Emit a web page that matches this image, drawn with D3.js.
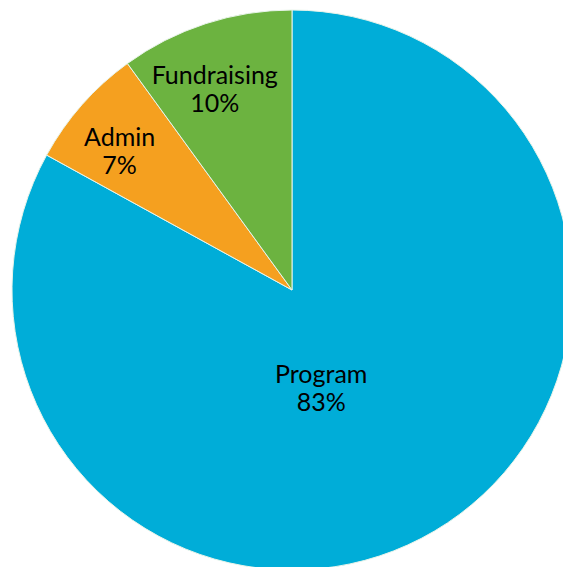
<!DOCTYPE html>
<html><head><meta charset="utf-8">
<script src="https://cdn.jsdelivr.net/npm/d3@7"></script>
<style>html,body{margin:0;padding:0;background:#fff;overflow:hidden}</style>
</head><body>
<svg id="chart" width="563" height="567"></svg>
<script>
const categories = ["Program", "Admin", "Fundraising"];
const values = [83, 7, 10];
const colors = ["#00ADD8", "#F5A01F", "#6CB340"];
// label placement: [angle offset in degrees from slice middle, radius fraction]
const labelAdjust = [[14, 0.365], [-2.6, 0.79], [-3, 0.77]];

const svg = d3.select("#chart");
const cx = 292, cy = 290, R = 280;
const g = svg.append("g").attr("transform", `translate(${cx},${cy})`);

const data = categories.map((c, i) => ({ name: c, value: values[i], color: colors[i], adj: labelAdjust[i] }));
const pie = d3.pie().value(d => d.value).sort(null);
const arc = d3.arc().innerRadius(0).outerRadius(R);
const arcs = pie(data);

g.selectAll("path").data(arcs).join("path")
  .attr("d", arc)
  .attr("fill", d => d.data.color)
  .attr("stroke", "#e8f4ea")
  .attr("stroke-width", 1);

const labels = g.selectAll("text").data(arcs).join("text")
  .attr("transform", d => {
    const a = (d.startAngle + d.endAngle) / 2 + d.data.adj[0] * Math.PI / 180;
    const r = R * d.data.adj[1];
    return `translate(${r * Math.sin(a)},${-r * Math.cos(a)})`;
  })
  .attr("text-anchor", "middle")
  .style("font-family", "Lato, 'Open Sans', sans-serif")
  .style("font-size", "25px")
  .attr("fill", "#000");
labels.append("tspan").attr("x", 0).attr("dy", "-0.2em").text(d => d.data.name);
labels.append("tspan").attr("x", 0).attr("dy", "1.12em").text(d => d.data.value + "%");
</script>
</body></html>
